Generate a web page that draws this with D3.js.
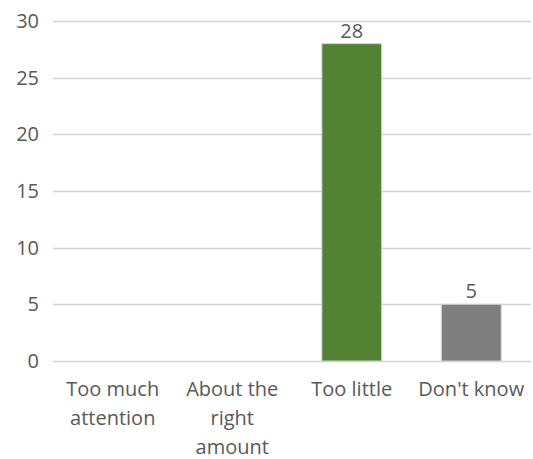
<!DOCTYPE html>
<html>
<head>
<meta charset="utf-8">
<script src="https://cdn.jsdelivr.net/npm/d3@7"></script>
<style>
  html, body { margin: 0; padding: 0; background: #fff; }
  text { font-family: "Open Sans", "Noto Sans", sans-serif; fill: #595959; }
</style>
</head>
<body>
<svg id="chart" width="533" height="459"></svg>
<script>
// Survey answers and counts
const categories = ["Too much attention", "About the right amount", "Too little", "Don't know"];
const labelLines = [["Too much", "attention"], ["About the", "right", "amount"], ["Too little"], ["Don't know"]];
const counts = [0, 0, 28, 5];
const barColors = ["#548235", "#548235", "#548235", "#7f7f7f"];
const yTicks = [0, 5, 10, 15, 20, 25, 30];

(function () {
  const svg = d3.select("#chart");
  const plotLeft = 53, plotRight = 531, plotTop = 21, plotBottom = 361;

  const x = d3.scaleBand()
    .domain(categories)
    .range([plotLeft, plotRight])
    .paddingInner(0.5)
    .paddingOuter(0.25);

  const y = d3.scaleLinear().domain([0, 30]).range([plotBottom, plotTop]);

  // Horizontal gridlines
  svg.append("g")
    .selectAll("line")
    .data(yTicks)
    .join("line")
    .attr("x1", plotLeft)
    .attr("x2", plotRight)
    .attr("y1", d => Math.round(y(d)) + 0.5)
    .attr("y2", d => Math.round(y(d)) + 0.5)
    .attr("stroke", "#d4d4d4")
    .attr("stroke-width", 1.5);

  // Y-axis tick labels
  const yAxis = svg.append("g")
    .attr("transform", `translate(${plotLeft},0)`)
    .call(d3.axisLeft(y).tickValues(yTicks).tickSize(0).tickPadding(14));
  yAxis.select(".domain").remove();
  yAxis.selectAll("text")
    .attr("fill", "#595959")
    .style("font-size", "20px")
    .style("font-family", "'Open Sans', 'Noto Sans', sans-serif");

  // Bars (only non-zero values draw visibly)
  const data = categories.map((c, i) => ({ c, v: counts[i], color: barColors[i] }));
  svg.append("g")
    .selectAll("rect")
    .data(data.filter(d => d.v > 0))
    .join("rect")
    .attr("x", d => x(d.c))
    .attr("y", d => y(d.v))
    .attr("width", x.bandwidth())
    .attr("height", d => y(0) - y(d.v))
    .attr("fill", d => d.color)
    .attr("stroke", "#d0d0d0")
    .attr("stroke-width", 1);

  // Value labels above bars
  svg.append("g")
    .selectAll("text")
    .data(data.filter(d => d.v > 0))
    .join("text")
    .attr("x", d => x(d.c) + x.bandwidth() / 2)
    .attr("y", d => y(d.v) - 6)
    .attr("text-anchor", "middle")
    .style("font-size", "20px")
    .text(d => d.v);

  // Category labels, wrapped onto multiple lines
  const xl = svg.append("g");
  categories.forEach((c, i) => {
    const cx = x(c) + x.bandwidth() / 2;
    const t = xl.append("text")
      .attr("x", cx)
      .attr("y", 396)
      .attr("text-anchor", "middle")
      .style("font-size", "20px");
    labelLines[i].forEach((line, j) => {
      t.append("tspan")
        .attr("x", cx)
        .attr("dy", j === 0 ? 0 : 29)
        .text(line);
    });
  });
})();
</script>
</body>
</html>
